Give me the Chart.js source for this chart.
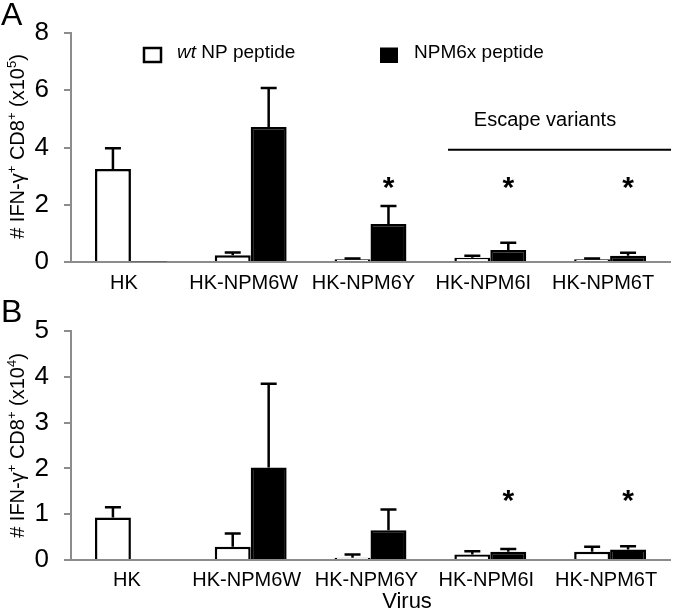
<!DOCTYPE html>
<html><head><meta charset="utf-8">
<script src="https://cdn.jsdelivr.net/npm/chart.js@4"></script>
<style>
html,body{margin:0;padding:0;background:#fff;}
#ca{position:absolute;left:0;top:0;}
#cb{position:absolute;left:0;top:300px;}
</style>
</head><body>
<canvas id="ca" width="680" height="300"></canvas>
<canvas id="cb" width="680" height="315"></canvas>
<script>
// ---- data ----
const categories = ['HK', 'HK-NPM6W', 'HK-NPM6Y', 'HK-NPM6I', 'HK-NPM6T'];
const seriesNames = ['wt NP peptide', 'NPM6x peptide'];
// Panel A (x10^5)
const aWt     = [3.25, 0.24, 0.10, 0.15, 0.10];
const aWtErr  = [0.72, 0.09, 0.02, 0.07, 0.02];
const aX      = [0.02, 4.72, 1.33, 0.42, 0.22];
const aXErr   = [0.00, 1.36, 0.63, 0.25, 0.10];
const aTicks  = [0, 2, 4, 6, 8];
const aSig    = [false, false, true, true, true];
// Panel B (x10^4)
const bWt     = [0.93, 0.29, 0.05, 0.12, 0.18];
const bWtErr  = [0.22, 0.29, 0.07, 0.07, 0.11];
const bX      = [0.02, 2.02, 0.65, 0.18, 0.23];
const bXErr   = [0.00, 1.83, 0.45, 0.06, 0.07];
const bTicks  = [0, 1, 2, 3, 4, 5];
const bSig    = [false, false, false, true, true];

const FONT = '"Liberation Sans", Arial, Helvetica, sans-serif';
const AXIS_GRAY = '#8c8c8c';

const errorBars = {
  id: 'errorBars',
  afterDatasetsDraw(chart) {
    const ctx = chart.ctx, y = chart.scales.y;
    chart.data.datasets.forEach((ds, di) => {
      const meta = chart.getDatasetMeta(di);
      meta.data.forEach((bar, i) => {
        const e = ds.errors[i];
        if (!e) return;
        const top = y.getPixelForValue(ds.data[i] + e);
        ctx.save();
        ctx.strokeStyle = '#000';
        ctx.lineWidth = 2.5;
        ctx.beginPath();
        ctx.moveTo(bar.x, bar.y);
        ctx.lineTo(bar.x, top);
        ctx.moveTo(bar.x - 8, top);
        ctx.lineTo(bar.x + 8, top);
        ctx.stroke();
        ctx.restore();
      });
    });
  }
};

function drawYTitle(ctx, x, cy, parts) {
  ctx.save();
  ctx.translate(x, cy);
  ctx.rotate(-Math.PI / 2);
  const main = '20px ' + FONT, sup = '13px ' + FONT;
  let w = 0;
  parts.forEach(p => { ctx.font = p[1] ? sup : main; w += ctx.measureText(p[0]).width; });
  let px = -w / 2;
  ctx.fillStyle = '#000';
  ctx.textBaseline = 'alphabetic';
  ctx.textAlign = 'left';
  parts.forEach(p => {
    ctx.font = p[1] ? sup : main;
    ctx.fillText(p[0], px, p[1] ? -8 : 0);
    px += ctx.measureText(p[0]).width;
  });
  ctx.restore();
}

function drawAsterisks(chart, sig, yVal) {
  const ctx = chart.ctx;
  const meta = chart.getDatasetMeta(1);
  const cy = chart.scales.y.getPixelForValue(yVal);
  ctx.save();
  ctx.font = 'bold 30px ' + FONT;
  ctx.fillStyle = '#000';
  ctx.textAlign = 'center';
  ctx.textBaseline = 'alphabetic';
  const m = ctx.measureText('*');
  const base = cy - (m.actualBoundingBoxDescent - m.actualBoundingBoxAscent) / 2;
  sig.forEach((s, i) => {
    if (s) ctx.fillText('*', meta.data[i].x, base);
  });
  ctx.restore();
}

function makeChart(id, wt, wtErr, xv, xErr, yMax, ticks, padTop, xHeight, labelOffset, labelPad, extra) {
  return new Chart(document.getElementById(id), {
    type: 'bar',
    data: {
      labels: categories,
      datasets: [
        { label: seriesNames[0], data: wt, errors: wtErr, backgroundColor: '#ffffff', borderColor: '#000', borderWidth: 2.5,
          barPercentage: 1.0, categoryPercentage: 0.6 },
        { label: seriesNames[1], data: xv, errors: xErr, backgroundColor: '#000000', borderColor: '#000', borderWidth: 2.5,
          barPercentage: 1.0, categoryPercentage: 0.6 }
      ]
    },
    options: {
      responsive: false,
      devicePixelRatio: 1,
      animation: false,
      layout: { padding: { top: padTop, right: 10, left: 0, bottom: 0 } },
      plugins: { legend: { display: false }, tooltip: { enabled: false }, title: { display: false } },
      scales: {
        x: {
          offset: true,
          grid: { display: false, drawTicks: false },
          border: { display: true, color: AXIS_GRAY, width: 2 },
          ticks: { color: '#000', font: { family: FONT, size: 20 }, padding: labelPad, labelOffset: labelOffset,
                   maxRotation: 0, minRotation: 0, autoSkip: false },
          afterFit: s => { s.height = xHeight; }
        },
        y: {
          min: 0, max: yMax,
          afterBuildTicks: s => { s.ticks = ticks.map(v => ({ value: v })); },
          grid: { drawOnChartArea: false, drawTicks: true, tickLength: 7, color: AXIS_GRAY, lineWidth: 2 },
          border: { display: true, color: AXIS_GRAY, width: 2 },
          ticks: { color: '#000', font: { family: FONT, size: 26 }, padding: 15 },
          afterFit: s => { s.width = 71; }
        }
      }
    },
    plugins: [errorBars, { id: 'extras', afterDraw: extra }]
  });
}

makeChart('ca', aWt, aWtErr, aX, aXErr, 8, aTicks, 33, 38, -7, 9, chart => {
  const ctx = chart.ctx, y = chart.scales.y, x = chart.scales.x, area = chart.chartArea;
  ctx.save();
  ctx.fillStyle = '#000';
  ctx.font = '32px ' + FONT;
  ctx.textAlign = 'left'; ctx.textBaseline = 'alphabetic';
  ctx.fillText('A', 1, 25);
  // legend
  ctx.strokeStyle = '#000'; ctx.lineWidth = 2.5;
  ctx.strokeRect(144, 48, 17, 14);
  ctx.fillRect(380, 47.5, 18, 15.5);
  ctx.font = 'italic 19px ' + FONT;
  ctx.fillText('wt', 177, 58);
  const ww = ctx.measureText('wt ').width;
  ctx.font = '19px ' + FONT;
  ctx.fillText(seriesNames[0].slice(3), 177 + ww, 58);
  ctx.fillText(seriesNames[1], 414, 58);
  // escape variants
  const ly = y.getPixelForValue(3.92);
  ctx.lineWidth = 2;
  ctx.beginPath();
  ctx.moveTo(x.getPixelForValue(2.647), ly);
  ctx.lineTo(area.right + 1, ly);
  ctx.stroke();
  ctx.font = '20px ' + FONT;
  ctx.textAlign = 'center';
  ctx.fillText('Escape variants', 545, 126);
  ctx.restore();
  drawYTitle(ctx, 24, (area.top + area.bottom) / 2 - 1,
    [['# IFN-\u03b3', 0], ['+', 1], [' CD8', 0], ['+', 1], [' (x10', 0], ['5', 1], [')', 0]]);
  drawAsterisks(chart, aSig, 2.75);
});

makeChart('cb', bWt, bWtErr, bX, bXErr, 5, bTicks, 31, 55, -4, 8, chart => {
  const ctx = chart.ctx, area = chart.chartArea;
  ctx.save();
  ctx.fillStyle = '#000';
  ctx.font = '32px ' + FONT;
  ctx.textAlign = 'left'; ctx.textBaseline = 'alphabetic';
  ctx.fillText('B', 1, 22);
  ctx.font = '22px ' + FONT;
  ctx.textAlign = 'center';
  ctx.fillText('Virus', 407, 308);
  ctx.restore();
  drawYTitle(ctx, 24, (area.top + area.bottom) / 2,
    [['# IFN-\u03b3', 0], ['+', 1], [' CD8', 0], ['+', 1], [' (x10', 0], ['4', 1], [')', 0]]);
  drawAsterisks(chart, bSig, 1.4);
});
</script>
</body></html>
